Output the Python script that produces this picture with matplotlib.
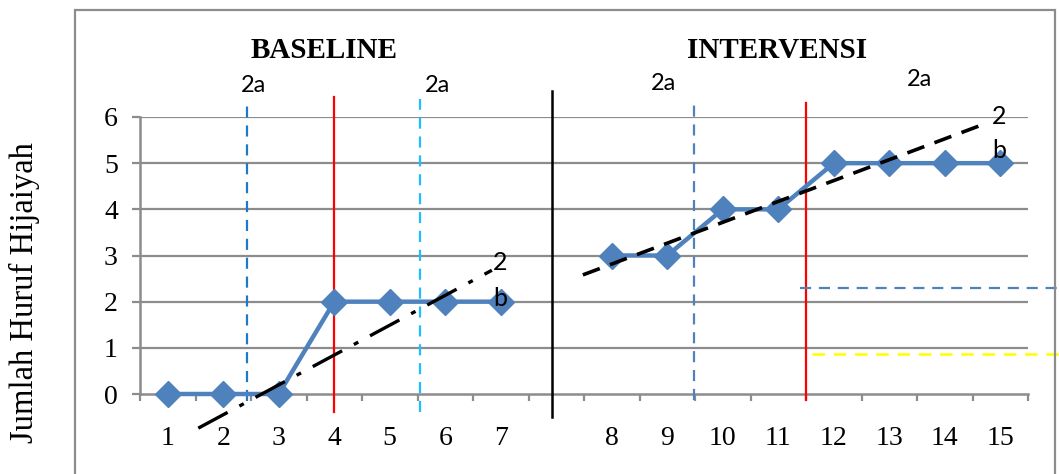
import numpy as np
import matplotlib
matplotlib.use("Agg")
import matplotlib.pyplot as plt
from matplotlib.patches import Rectangle

# ---------------- data ----------------
baseline_sessions = [1, 2, 3, 4, 5, 6, 7]
baseline_scores = [0, 0, 0, 2, 2, 2, 2]
intervention_sessions = [8, 9, 10, 11, 12, 13, 14, 15]
intervention_scores = [3, 3, 4, 4, 5, 5, 5, 5]
x_tick_labels = ["1", "2", "3", "4", "5", "6", "7", "", "8", "9", "10", "11", "12", "13", "14", "15"]
y_ticks = [0, 1, 2, 3, 4, 5, 6]

# hand-drawn trend lines (category-axis units)
baseline_trend_x = [1.55, 6.84]
baseline_trend_y = [-0.74, 2.68]
intervention_trend_x = [8.48, 15.76]
intervention_trend_y = [2.58, 5.87]

# phase / split lines (category-axis units)
baseline_split_x = [2.43, 5.55]
baseline_mid_x = 4.0
phase_change_x = 7.92
intervention_split_x = 10.48
intervention_mid_x = 12.5
level_blue_y = 2.29
level_yellow_y = 0.87

W, H = 1059, 474
fig = plt.figure(figsize=(W / 100, H / 100), dpi=100)

def fx(px):
    return px / W

def fy(py):
    return 1 - py / H

ax = fig.add_axes([fx(140), fy(394), fx(1028) - fx(140), fy(117) - fy(394)])

grid_c = "#8c8c8c"
blue = "#4f81bd"

# category positions: baseline 1..7, gap at 8, intervention 9..16
pos = np.arange(1, len(x_tick_labels) + 1)
base_pos = pos[:len(baseline_sessions)]
int_pos = pos[len(baseline_sessions) + 1:]

ax.set_xlim(0.5, len(x_tick_labels) + 0.5)
ax.set_ylim(0, 6)

for yv in y_ticks[1:]:
    ax.axhline(yv, color=grid_c, lw=1.6, zorder=1)

ax.plot(base_pos, baseline_scores, color=blue, lw=3.2, marker="D", ms=13,
        markeredgecolor=blue, zorder=5, clip_on=False)
ax.plot(int_pos, intervention_scores, color=blue, lw=3.2, marker="D", ms=13,
        markeredgecolor=blue, zorder=5, clip_on=False)

# trend lines
ax.plot(baseline_trend_x, baseline_trend_y, color="black", lw=2.4,
        dashes=(10, 4, 1.5, 4), clip_on=False, zorder=6)
ax.plot(intervention_trend_x, intervention_trend_y, color="black", lw=2.6,
        dashes=(5, 3), clip_on=False, zorder=6)

# vertical lines
ax.plot([baseline_split_x[0]] * 2, [-0.15, 6.28], color="#1f78c8", lw=1.6,
        dashes=(5, 3.5), clip_on=False, zorder=4)
ax.plot([baseline_mid_x] * 2, [-0.39, 6.43], color="#ff0000", lw=1.6,
        clip_on=False, zorder=4)
ax.plot([baseline_split_x[1]] * 2, [-0.39, 6.39], color="#1fbfff", lw=1.6,
        dashes=(5, 3.5), clip_on=False, zorder=4)
ax.plot([phase_change_x] * 2, [-0.5, 6.56], color="black", lw=1.8,
        clip_on=False, zorder=4)
ax.plot([intervention_split_x] * 2, [-0.13, 6.39], color=blue, lw=1.6,
        dashes=(5, 3.5), clip_on=False, zorder=4)
ax.plot([intervention_mid_x] * 2, [-0.13, 6.3], color="#ff0000", lw=1.6,
        clip_on=False, zorder=4)

# horizontal level lines
ax.plot([12.39, 17.05], [level_blue_y] * 2, color=blue, lw=1.6,
        dashes=(5, 3.5), clip_on=False, zorder=4)
ax.plot([12.6, 17.05], [level_yellow_y] * 2, color="#ffff00", lw=1.8,
        dashes=(5, 3.5), clip_on=False, zorder=4)

# axes styling
for s in ["top", "right"]:
    ax.spines[s].set_visible(False)
for s in ["left", "bottom"]:
    ax.spines[s].set_color(grid_c)
    ax.spines[s].set_linewidth(1.8)
    ax.spines[s].set_zorder(2)

ax.set_yticks(y_ticks)
ax.set_yticklabels([str(v) for v in y_ticks], family="Liberation Serif", fontsize=20)
ax.tick_params(axis="y", length=6, width=1.6, color=grid_c, pad=10)

ax.set_xticks(np.arange(0.5, len(x_tick_labels) + 1, 1.0))
ax.set_xticklabels([])
ax.tick_params(axis="x", which="major", length=5, width=1.6, color=grid_c)
ax.set_xticks(pos, minor=True)
ax.set_xticklabels(x_tick_labels, minor=True, family="Liberation Serif", fontsize=20)
ax.tick_params(axis="x", which="minor", length=0, pad=23)

# texts
fig.text(fx(24), fy(293), "Jumlah Huruf Hijaiyah", rotation=90, ha="center",
         va="center", family="Liberation Serif", fontsize=23.5)
fig.text(fx(324), fy(50), "BASELINE", ha="center", va="center",
         family="Liberation Serif", fontweight="bold", fontsize=21)
fig.text(fx(777), fy(50), "INTERVENSI", ha="center", va="center",
         family="Liberation Serif", fontweight="bold", fontsize=21)

sans = "Lato"
for (px, py) in [(253, 85), (438, 85), (664, 84), (920, 80)]:
    fig.text(fx(px), fy(py), "2a", ha="center", va="center", family=sans, fontsize=17)
for (px, py, t) in [(500, 262, "2"), (500, 298, "b"), (999, 116, "2"), (999, 150, "b")]:
    fig.text(fx(px), fy(py), t, ha="center", va="center", family=sans, fontsize=18, zorder=10)

# outer chart border
fig.patches.append(Rectangle((fx(75), fy(490)), fx(1055) - fx(75), fy(10) - fy(490),
                             transform=fig.transFigure, fill=False,
                             edgecolor=grid_c, lw=1.6))

fig.savefig("out.png", dpi=100)
